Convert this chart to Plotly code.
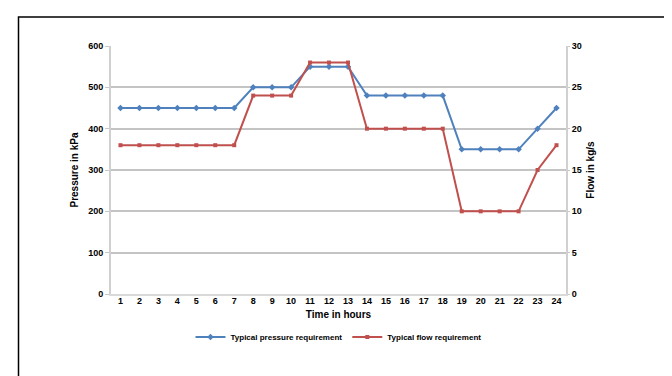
import plotly.graph_objects as go

hours = list(range(1, 25))
hour_labels = [str(h) for h in hours]
pressure_kpa = [450, 450, 450, 450, 450, 450, 450,
                500, 500, 500,
                550, 550, 550,
                480, 480, 480, 480, 480,
                350, 350, 350, 350,
                400, 450]
flow_kgs = [18, 18, 18, 18, 18, 18, 18,
            24, 24, 24,
            28, 28, 28,
            20, 20, 20, 20, 20,
            10, 10, 10, 10,
            15, 18]

BLUE = "#4F81BD"
RED = "#C0504D"
FONT = "Liberation Sans"

fig = go.Figure()
fig.add_trace(go.Scatter(
    x=hours, y=pressure_kpa, name="Typical pressure requirement",
    mode="lines+markers", line=dict(color=BLUE, width=2),
    marker=dict(symbol="diamond", size=5, color=BLUE), yaxis="y"))
fig.add_trace(go.Scatter(
    x=hours, y=flow_kgs, name="Typical flow requirement",
    mode="lines+markers", line=dict(color=RED, width=2),
    marker=dict(symbol="square", size=4, color=RED), yaxis="y2"))

W, H = 672, 376
L, R, T, B = 103, 558, 38, 286
pw, ph = R - L, B - T

def px_x(p):
    return (p - L) / pw

def px_y(p):
    return (B - p) / ph

fig.add_shape(type="rect", xref="paper", yref="paper",
              x0=px_x(10.5), x1=px_x(666.5), y0=px_y(390), y1=px_y(9),
              line=dict(color="black", width=1.5), fillcolor="rgba(0,0,0,0)")

fig.update_layout(
    width=W, height=H,
    margin=dict(l=L, r=W - R, t=T, b=H - B),
    paper_bgcolor="white", plot_bgcolor="white",
    font=dict(family=FONT, color="black", size=9),
    showlegend=True,
    legend=dict(orientation="h", x=0.5, xanchor="center", y=px_y(329), yanchor="middle",
                font=dict(family=FONT, size=8, weight="bold"), itemwidth=30,
                bgcolor="rgba(0,0,0,0)"),
    xaxis=dict(range=[0.5, 24.5], tickmode="array", tickvals=hours, ticktext=hour_labels,
               showgrid=False, showline=True, linecolor="#D9D9D9", linewidth=1.5,
               ticks="", tickfont=dict(family=FONT, size=9, weight="bold"),
               ticklabelstandoff=-3,
               title=dict(text="Time in hours", font=dict(family=FONT, size=10, weight="bold"),
                          standoff=6),
               zeroline=False, fixedrange=True),
    yaxis=dict(range=[0, 600], dtick=100, showgrid=True, gridcolor="#C4C4C4", gridwidth=1.5,
               showline=True, linecolor="#D0D0D0", linewidth=2, ticks="outside",
               ticklen=4, tickcolor="#C8C8C8",
               tickfont=dict(family=FONT, size=9, weight="bold"),
               title=dict(text="Pressure in kPa", font=dict(family=FONT, size=10, weight="bold"),
                          standoff=8),
               zeroline=False),
    yaxis2=dict(range=[0, 30], dtick=5, overlaying="y", side="right", showgrid=False,
                showline=True, linecolor="#D0D0D0", linewidth=2, ticks="outside",
                ticklen=2, tickcolor="#C8C8C8",
                tickfont=dict(family=FONT, size=9, weight="bold"),
                title=dict(text="Flow in kg/s", font=dict(family=FONT, size=10, weight="bold"),
                           standoff=6),
                zeroline=False),
)

fig.write_html("out.html")
